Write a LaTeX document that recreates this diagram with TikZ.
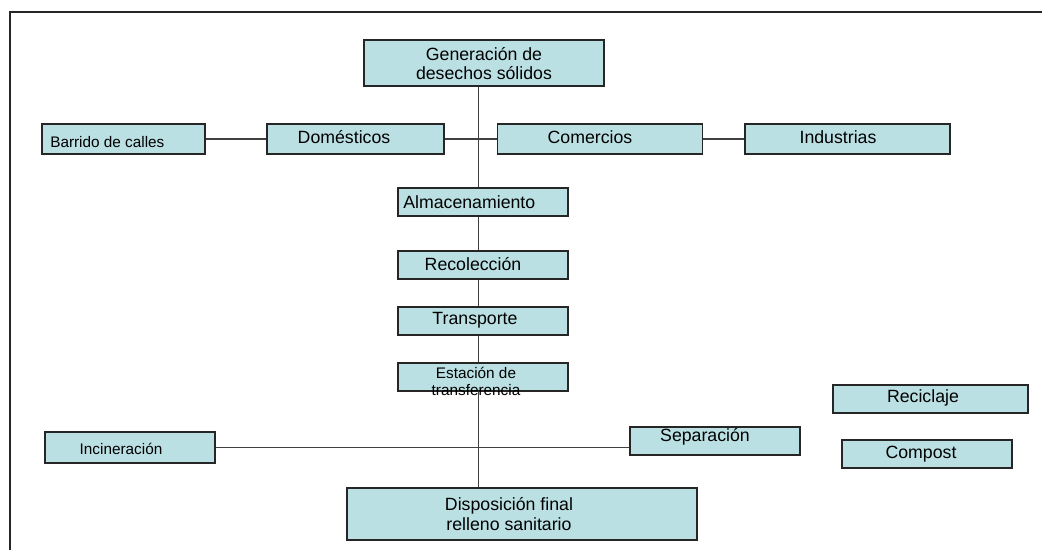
\documentclass[tikz,border=0pt]{standalone}
\usepackage{fontspec}
\setmainfont{Liberation Sans}
\usetikzlibrary{backgrounds,calc}

\definecolor{cajacol}{RGB}{187,224,227}

\tikzset{
	caja/.style={draw=black!85, line width=1.3pt, fill=cajacol, inner sep=0pt},
	sz/.style 2 args={minimum width=#1*0.025cm, minimum height=#2*0.025cm},
	grande/.style={inner sep=0pt, align=center, font=\fontsize{12.6}{13.5}\selectfont},
	chico/.style={inner sep=0pt, align=center, font=\fontsize{10.9}{12}\selectfont},
	linea/.style={draw=black!75, line width=1pt}
}

\begin{document}
\begin{tikzpicture}[x=0.025cm, y=-0.025cm]
	\useasboundingbox (0,0) rectangle (1042,550);
	\draw[line width=1.4pt, black!85] (10,550) -- (10,12) -- (1042,12);

	% cajas
	\node[caja, sz={240}{46}] (gen) at (484,63) {};
	\node[grande] (t-gen) at (484,64) {Generación de\\desechos sólidos};

	\node[caja, sz={163}{30}] (bar) at (123.5,139) {};
	\node[chico, anchor=west] (t-bar) at (50,142) {Barrido de calles};
	\node[caja, sz={177}{30}] (dom) at (355.5,139) {};
	\node[grande] (t-dom) at (344,137) {Domésticos};
	\node[caja, sz={205}{30}] (com) at (600,139) {};
	\node[grande] (t-com) at (590,137) {Comercios};
	\node[caja, sz={205}{30}] (ind) at (847.5,139) {};
	\node[grande] (t-ind) at (838,137) {Industrias};

	\node[caja, sz={170}{28}] (alm) at (483,202) {};
	\node[grande, anchor=west] (t-alm) at (403,202) {Almacenamiento};
	\node[caja, sz={170}{28}] (rec) at (483,265) {};
	\node[grande] (t-rec) at (473,264) {Recolección};
	\node[caja, sz={170}{28}] (tra) at (483,321) {};
	\node[grande] (t-tra) at (475,320) {Transporte};
	\node[caja, sz={170}{28}] (est) at (483,377) {};
	\node[chico] (t-est) at (476,381) {Estación de\\transferencia};

	\node[caja, sz={195}{28}] (cic) at (930.5,399) {};
	\node[grande] (t-cic) at (923,398) {Reciclaje};
	\node[caja, sz={170}{28}] (sep) at (715,441) {};
	\node[grande] (t-sep) at (705,437) {Separación};
	\node[caja, sz={170}{31}] (inc) at (130,447.5) {};
	\node[chico] (t-inc) at (121,449) {Incineración};
	\node[caja, sz={170}{28}] (cpt) at (927,454) {};
	\node[grande] (t-cpt) at (921,454) {Compost};

	\node[caja, sz={350}{52}] (dis) at (522,514) {};
	\node[grande, font=\fontsize{12.6}{14}\selectfont] (t-dis) at (509,514) {Disposición final\\relleno sanitario};

	% lineas
	\begin{scope}[on background layer]
		\draw[linea] ([xshift=-4]gen.south) -- ([xshift=-4]gen.south |- dis.north);
		\draw[linea] (bar.east) -- (dom.west);
		\draw[linea] (dom.east) -- (com.west);
		\draw[linea] (com.east) -- (ind.west);
		\draw[linea] (inc.east) -- (inc.east -| sep.west);
	\end{scope}
\end{tikzpicture}
\end{document}
